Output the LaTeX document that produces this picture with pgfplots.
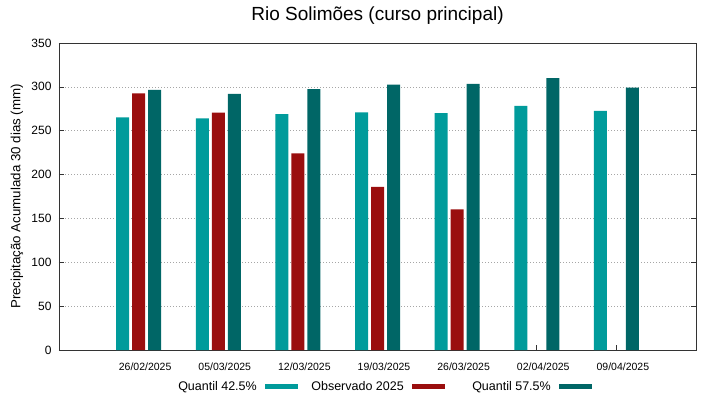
\documentclass[border=0pt]{standalone}
\usepackage{fontspec}
\setmainfont{Liberation Sans}
\usepackage{pgfplots}
\pgfplotsset{compat=1.18}
\definecolor{cA}{HTML}{009B9B}
\definecolor{cB}{HTML}{9A0E0E}
\definecolor{cC}{HTML}{006666}
\pgfplotsset{myleg/.style={legend image code/.code={\fill[##1,draw=none] (0pt,-2.5pt) rectangle (33pt,2.5pt);}}}
\begin{document}
\begin{tikzpicture}[x=1pt,y=1pt]
\useasboundingbox (0,0) rectangle (719,399);
\begin{axis}[
  at={(59pt,49pt)}, anchor=south west,
  scale only axis, width=637pt, height=307pt,
  /pgf/number format/assume math mode=true,
  ybar=3pt, bar width=13pt,
  xmin=-1, xmax=7, ymin=0, ymax=350,
  xtick={0,1,2,3,4,5,6},
  xticklabels={26/02/2025,05/03/2025,12/03/2025,19/03/2025,26/03/2025,02/04/2025,09/04/2025},
  ytick={0,50,...,350},
  xtick pos=left, ytick pos=both, tick align=inside,
  major tick length=5pt,
  tick style={black!80, line width=0.6pt},
  axis line style={black!80, line width=0.8pt},
  ymajorgrids, grid style={gray!70, dash pattern=on 1pt off 2pt, line width=0.6pt},
  xticklabel style={font=\fontsize{10.5}{12}\selectfont, xshift=6.5pt, yshift=-9pt},
  yticklabel style={font=\fontsize{12}{14}\selectfont, xshift=-4pt},
  ylabel={Precipitação Acumulada 30 dias (mm)},
  ylabel style={font=\fontsize{13.3}{15}\selectfont, at={(axis description cs:-0.066,0.5)}, anchor=center},
  title={Rio Solimões (curso principal)},
  title style={font=\fontsize{19}{22}\selectfont, at={(axis description cs:0.5,1)}, anchor=center, yshift=21pt},
  legend columns=3, legend plot pos=right,
  legend style={draw=none, fill=none, at={(axis description cs:0.8367,-0.1205)}, anchor=east,
    column sep=8pt, inner sep=0pt, nodes={inner sep=0pt}, font=\fontsize{12.5}{14}\selectfont},
]
\addplot[fill=cA, draw=none, myleg] coordinates {(0,265.3) (1,264) (2,269) (3,271) (4,270) (5,278.2) (6,272.5)};
\addlegendentry{\makebox[98pt][r]{Quantil 42.5\%}}
\addplot[fill=cB, draw=none, myleg] coordinates {(0,292.7) (1,270.6) (2,224.3) (3,186) (4,160.4)};
\addlegendentry{\makebox[98pt][r]{Observado 2025}}
\addplot[fill=cC, draw=none, myleg] coordinates {(0,296.5) (1,291.9) (2,297.3) (3,302.5) (4,303.3) (5,310) (6,299)};
\addlegendentry{\makebox[98pt][r]{Quantil 57.5\%}}
\end{axis}
\end{tikzpicture}
\end{document}
